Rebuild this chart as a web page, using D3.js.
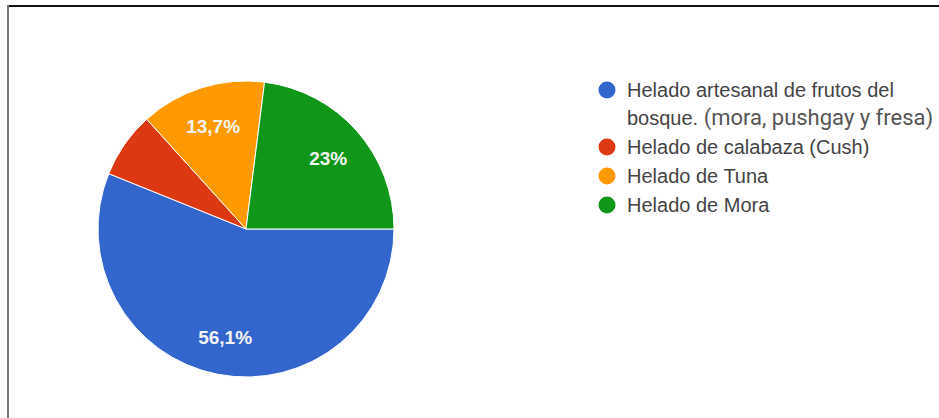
<!DOCTYPE html>
<html>
<head>
<meta charset="utf-8">
<script src="https://cdn.jsdelivr.net/npm/d3@7"></script>
<style>
  html, body { margin: 0; padding: 0; background: #fff; }
  svg { display: block; }
</style>
</head>
<body>
<svg id="chart" width="939" height="418"></svg>
<script>
// Survey answers: preferred ice cream
const categories = [
  "Helado artesanal de frutos del bosque. (mora, pushgay y fresa)",
  "Helado de calabaza (Cush)",
  "Helado de Tuna",
  "Helado de Mora"
];
const values = [56.1, 7.2, 13.7, 23];
const valueLabels = ["56,1%", "", "13,7%", "23%"];
const colors = ["#3366cc", "#dc3912", "#ff9900", "#109618"];
// legend text, first entry wraps onto two lines
const legendLines = [
  [["Helado artesanal de frutos del", null]],
  [["bosque.", null], [" (mora, pushgay y fresa)", "big"]]
];

const svg = d3.select("#chart");
const fontFam = "Liberation Sans, Arial, sans-serif";

// frame edges
svg.append("line").attr("x1", 8).attr("y1", 6).attr("x2", 939).attr("y2", 6)
  .attr("stroke", "#111").attr("stroke-width", 2);
svg.append("line").attr("x1", 8).attr("y1", 5).attr("x2", 8).attr("y2", 418)
  .attr("stroke", "#7a7a7a").attr("stroke-width", 2);

const cx = 246, cy = 229, r = 148;

const pie = d3.pie().sort(null).value(d => d)
  .startAngle(Math.PI / 2).endAngle(Math.PI / 2 + 2 * Math.PI);
const arcs = pie(values);
const arc = d3.arc().innerRadius(0).outerRadius(r);
const labelArc = d3.arc().innerRadius(r * 0.74).outerRadius(r * 0.74);

const g = svg.append("g").attr("transform", `translate(${cx},${cy})`);
g.selectAll("path.slice").data(arcs).join("path")
  .attr("class", "slice")
  .attr("d", arc)
  .attr("fill", (d, i) => colors[i])
  .attr("stroke", "#fff")
  .attr("stroke-width", 1);

g.selectAll("text.val").data(arcs).join("text")
  .attr("class", "val")
  .attr("transform", d => `translate(${labelArc.centroid(d)})`)
  .attr("text-anchor", "middle")
  .attr("dy", "0.42em")
  .attr("font-family", fontFam)
  .attr("font-size", 19)
  .attr("font-weight", "bold")
  .attr("fill", "#f4f4f4")
  .text((d, i) => valueLabels[i]);

// legend
const legendX = 607, textX = 627;
const rowY = [90, 147, 176, 205];
const legend = svg.append("g");
categories.forEach((c, i) => {
  legend.append("circle").attr("cx", legendX).attr("cy", rowY[i]).attr("r", 8.5)
    .attr("fill", colors[i]);
});
// first entry, wrapped
const wrapY = [rowY[0], rowY[0] + 28];
legendLines.forEach((line, li) => {
  const t = legend.append("text").attr("x", textX).attr("y", wrapY[li])
    .attr("dy", "0.36em").attr("font-family", fontFam).attr("font-size", 20)
    .attr("fill", "#444");
  line.forEach(([s, kind]) => {
    const ts = t.append("tspan").text(s);
    if (kind === "big") ts.attr("font-family", "Roboto, sans-serif").attr("font-size", 22).attr("fill", "#555");
  });
});
categories.slice(1).forEach((c, k) => {
  legend.append("text").attr("x", textX).attr("y", rowY[k + 1])
    .attr("dy", "0.36em").attr("font-family", fontFam).attr("font-size", 20)
    .attr("fill", "#444").text(c);
});
</script>
</body>
</html>
